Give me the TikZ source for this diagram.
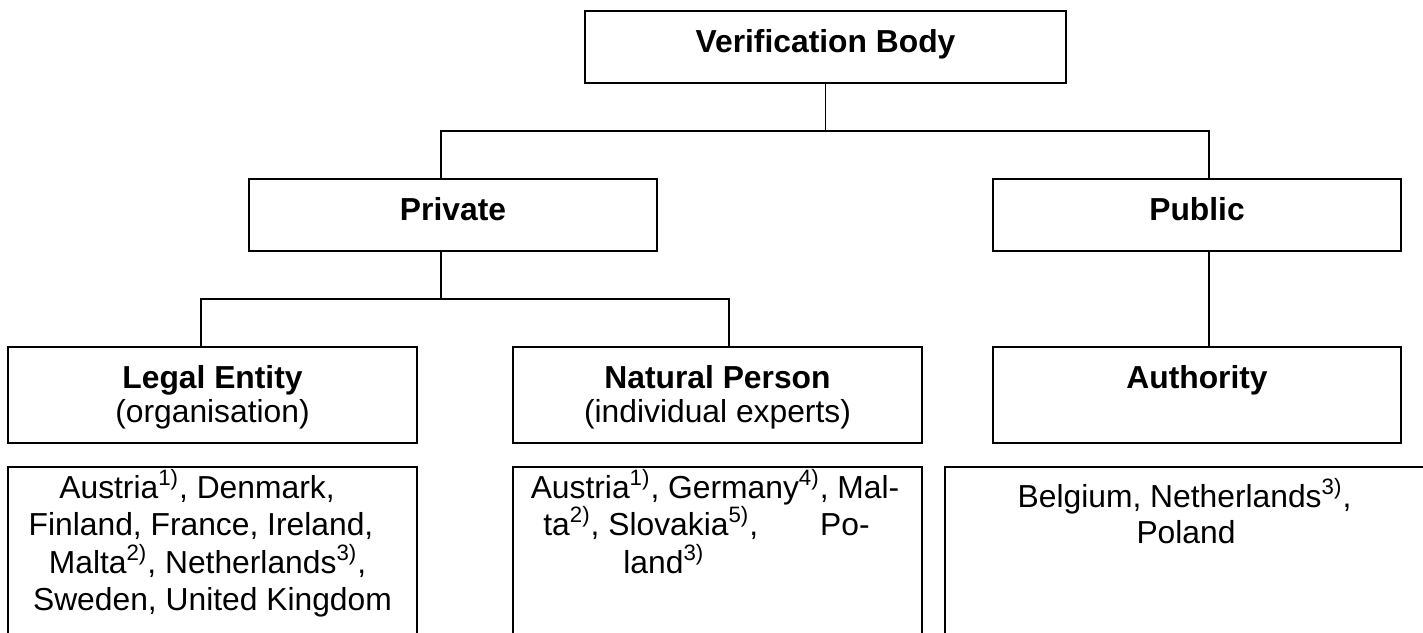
\documentclass[tikz,border=0pt]{standalone}
\usepackage{fontspec}
\setmainfont{Liberation Sans}
\begin{document}
\begin{tikzpicture}[x=0.5pt,y=-0.5pt,
  box/.style={draw, line width=0.75pt, inner sep=0pt, outer sep=0pt},
  link/.style={line width=0.75pt},
  txt/.style={inner sep=0pt, anchor=base, font=\fontsize{15.9}{18.6}\selectfont},
  btxt/.style={txt, font=\fontsize{15.9}{18.6}\selectfont\bfseries}]
\useasboundingbox (0,0) rectangle (1423,632);
\clip (0,0) rectangle (1423,632);
% boxes
\node[box, minimum width=240.5pt, minimum height=36pt] (vb) at (825.5,47) {};
\node[box, minimum width=204pt, minimum height=36pt] (priv) at (453,215) {};
\node[box, minimum width=204pt, minimum height=36pt] (pub) at (1197,215) {};
\node[box, minimum width=204.5pt, minimum height=48pt] (le) at (212.5,395) {};
\node[box, minimum width=204.5pt, minimum height=48pt] (np) at (717.5,395) {};
\node[box, minimum width=204pt, minimum height=48pt] (auth) at (1197,395) {};
\node[box, minimum width=204.5pt, minimum height=96.5pt] (lel) at (212.5,563.5) {};
\node[box, minimum width=204.5pt, minimum height=96.5pt] (npl) at (717.5,563.5) {};
\node[box, minimum width=244pt, minimum height=96.5pt] (authl) at (1189,563.5) {};
% connectors
\draw[link] (vb.south) -- ++(0,48);
\draw[link] ([xshift=-6pt]priv.north) -- ++(0,-48) -| ([xshift=6pt]pub.north);
\draw[link] ([xshift=-6pt]priv.south) -- ++(0,48);
\draw[link] ([xshift=-5.75pt]le.north) -- ++(0,-48) -| ([xshift=5.75pt]np.north);
\draw[link] ([xshift=6pt]pub.south) -- ([xshift=6pt]auth.north);
% texts
\node[btxt] (vbt) at (825.5,52) {Verification Body};
\node[btxt] (privt) at (453,220) {Private};
\node[btxt] (pubt) at (1197,220) {Public};
\node[btxt] (let) at (212.5,388) {Legal Entity};
\node[txt] (les) at (212.5,422) {(organisation)};
\node[btxt] (npt) at (717.5,388) {Natural Person};
\node[txt] (nps) at (717.5,422) {(individual experts)};
\node[btxt] (autht) at (1197,388) {Authority};
% left list
\node[txt] (l1) at (197,498) {Austria\textsuperscript{1)}, Denmark,};
\node[txt] (l2) at (201,535.5) {Finland, France, Ireland,};
\node[txt] (l3) at (207.5,573) {Malta\textsuperscript{2)}, Netherlands\textsuperscript{3)},};
\node[txt] (l4) at (212.5,610) {Sweden, United Kingdom};
% middle list
\node[txt] (m1) at (715,498) {Austria\textsuperscript{1)}, Germany\textsuperscript{4)}, Mal-};
\node[txt, anchor=base west] (m2a) at (543,535.5) {ta\textsuperscript{2)}, Slovakia\textsuperscript{5)},};
\node[txt, anchor=base east] (m2b) at (870,535.5) {Po-};
\node[txt, anchor=base west] (m3) at (623,573) {land\textsuperscript{3)}};
% right list
\node[txt] (r1) at (1184.5,507) {Belgium, Netherlands\textsuperscript{3)},};
\node[txt] (r2) at (1186,543.5) {Poland};
\end{tikzpicture}
\end{document}
